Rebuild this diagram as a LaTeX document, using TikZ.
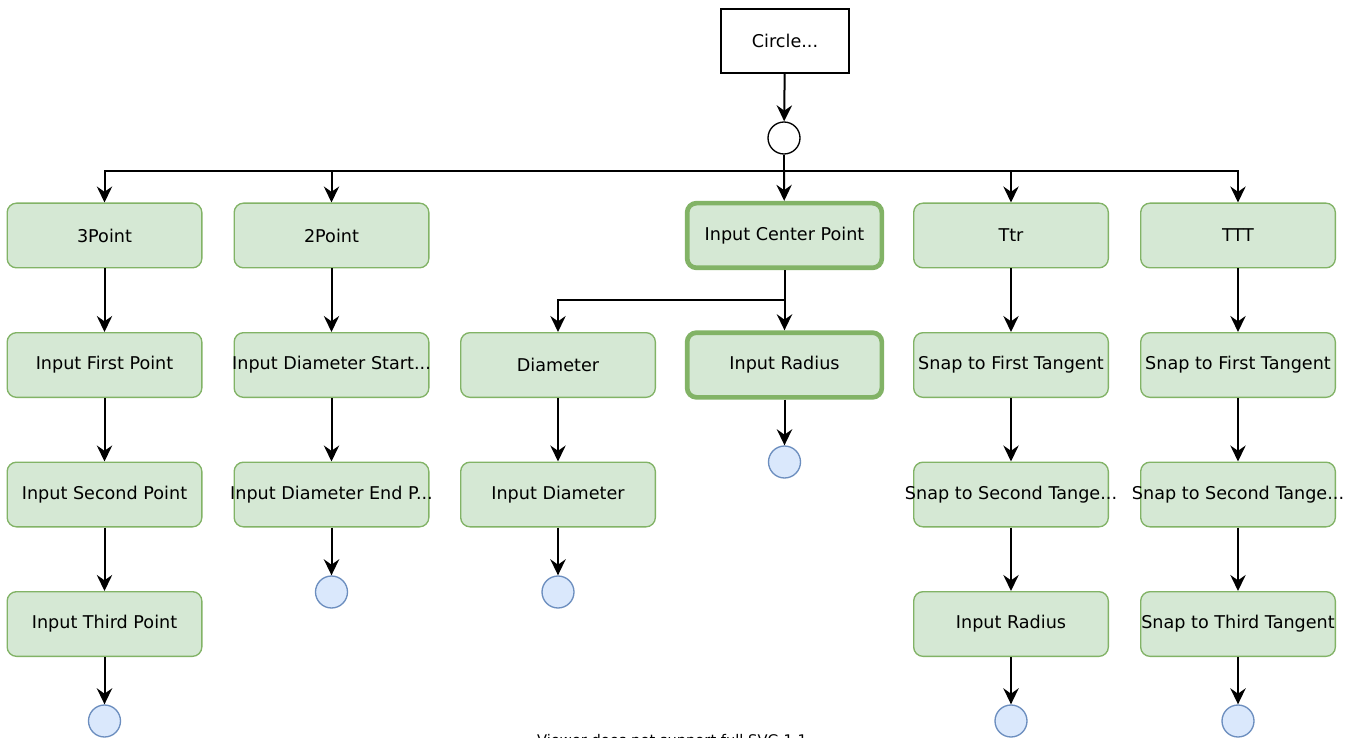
\documentclass[tikz,border=0pt]{standalone}
\usepackage{fontspec}
\setmainfont{DejaVu Sans}
\usetikzlibrary{arrows.meta}
\definecolor{gfill}{HTML}{D5E8D4}
\definecolor{gline}{HTML}{82B366}
\definecolor{bfill}{HTML}{DAE8FC}
\definecolor{bline}{HTML}{6C8EBF}
\tikzset{
  x=0.75pt,y=-0.75pt,
  gbox/.style={draw=gline,fill=gfill,line width=1pt,rounded corners=7pt,
    minimum width=146pt,minimum height=48.5pt,inner sep=0pt,font=\fontsize{13.2}{15}\selectfont},
  gthick/.style={gbox,line width=3.5pt},
  endc/.style={circle,draw=bline,fill=bfill,line width=1pt,minimum size=24pt,inner sep=0pt},
  arr/.style={draw,line width=1.5pt,-{Stealth[length=12pt,width=11.5pt,inset=4pt]}},
}
\newcommand{\tx}[1]{\makebox[0pt]{#1}}
\begin{document}
\begin{tikzpicture}
\clip (0,0) rectangle (1354,738);
\fill[white] (0,0) rectangle (1354,738);
% top
\node[draw,fill=white,line width=1pt,minimum width=96pt,minimum height=48pt,inner sep=0pt,font=\fontsize{13.2}{15}\selectfont] (top) at (785,41) {Circle...};
\node[circle,draw,fill=white,line width=1pt,minimum size=24pt,inner sep=0pt] (hub) at (784,138) {};
\draw[arr] (top) -- (hub);
% row 1
\node[gbox] (a1) at (104.5,235.5) {\tx{3Point}};
\node[gbox] (b1) at (331.5,235.5) {\tx{2Point}};
\node[gthick] (d1) at (784.5,235.5) {\tx{Input Center Point}};
\node[gbox] (e1) at (1011,235.5) {\tx{Ttr}};
\node[gbox] (f1) at (1238,235.5) {\tx{TTT}};
\coordinate (bar) at (784,171);
\draw[line width=1.5pt] (hub) -- (bar);
\draw[arr] (bar) -| (a1);
\draw[arr] (bar) -| (b1);
\draw[arr] (bar) -- (d1);
\draw[arr] (bar) -| (e1);
\draw[arr] (bar) -| (f1);
% row 2
\node[gbox] (a2) at (104.5,365) {\tx{Input First Point}};
\node[gbox] (b2) at (331.5,365) {\tx{Input Diameter Start...}};
\node[gbox] (c2) at (558,365) {\tx{Diameter}};
\node[gthick] (d2) at (784.5,365) {\tx{Input Radius}};
\node[gbox] (e2) at (1011,365) {\tx{Snap to First Tangent}};
\node[gbox] (f2) at (1238,365) {\tx{Snap to First Tangent}};
% row 3
\node[gbox] (a3) at (104.5,494.5) {\tx{Input Second Point}};
\node[gbox] (b3) at (331.5,494.5) {\tx{Input Diameter End P...}};
\node[gbox] (c3) at (558,494.5) {\tx{Input Diameter}};
\node[gbox] (e3) at (1011,494.5) {\tx{Snap to Second Tange...}};
\node[gbox] (f3) at (1238,494.5) {\tx{Snap to Second Tange...}};
% row 4
\node[gbox] (a4) at (104.5,624) {\tx{Input Third Point}};
\node[gbox] (e4) at (1011,624) {\tx{Input Radius}};
\node[gbox] (f4) at (1238,624) {\tx{Snap to Third Tangent}};
% ends
\node[endc] (ea) at (104.5,721) {};
\node[endc] (eb) at (331.5,592) {};
\node[endc] (ec) at (558,592) {};
\node[endc] (ed) at (784.5,462) {};
\node[endc] (ee) at (1011,721) {};
\node[endc] (ef) at (1238,721) {};
% connectors
\draw[arr] (a1) -- (a2);
\draw[arr] (a2) -- (a3);
\draw[arr] (a3) -- (a4);
\draw[arr] (a4) -- (ea);
\draw[arr] (b1) -- (b2);
\draw[arr] (b2) -- (b3);
\draw[arr] (b3) -- (eb);
\coordinate (split) at (784.5,300);
\draw[line width=1.5pt] (d1) -- (split);
\draw[arr] (split) -| (c2);
\draw[arr] (split) -- (d2);
\draw[arr] (c2) -- (c3);
\draw[arr] (c3) -- (ec);
\draw[arr] (d2) -- (ed);
\draw[arr] (e1) -- (e2);
\draw[arr] (e2) -- (e3);
\draw[arr] (e3) -- (e4);
\draw[arr] (e4) -- (ee);
\draw[arr] (f1) -- (f2);
\draw[arr] (f2) -- (f3);
\draw[arr] (f3) -- (f4);
\draw[arr] (f4) -- (ef);
% footer
\node[anchor=base,font=\fontsize{11}{13}\selectfont,inner sep=0pt] (foot) at (672,745) {Viewer does not support full SVG 1.1};
\end{tikzpicture}
\end{document}
